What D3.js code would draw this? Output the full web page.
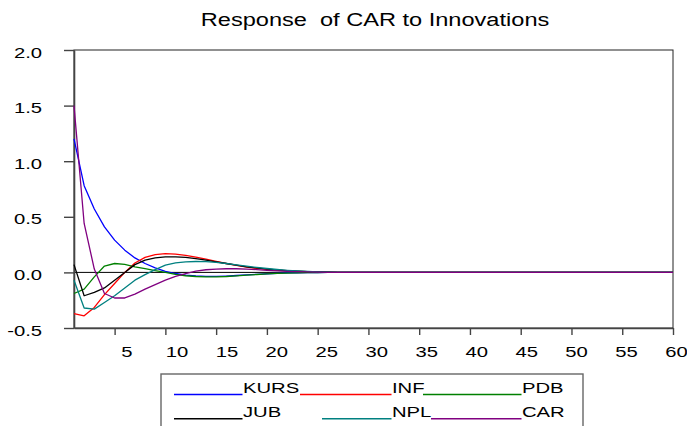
<!DOCTYPE html>
<html>
<head>
<meta charset="utf-8">
<script src="https://cdn.jsdelivr.net/npm/d3@7"></script>
<style>
  body { margin: 0; background: #fff; }
  text { font-family: "Liberation Sans", Arial, sans-serif; fill: #000; }
</style>
</head>
<body>
<svg id="chart" width="687" height="426"></svg>
<script>
// impulse responses, periods 1..60
var periods = d3.range(1, 61);
var KURS = [1.20, 0.78, 0.57, 0.41, 0.29, 0.20, 0.13, 0.08, 0.04, 0.01, -0.01, -0.025, -0.032, -0.036, -0.036, -0.033, -0.028, -0.022, -0.017, -0.012,
            -0.008, -0.005, -0.003, -0.002, -0.001, 0, 0, 0, 0, 0, 0, 0, 0, 0, 0, 0, 0, 0, 0, 0,
            0, 0, 0, 0, 0, 0, 0, 0, 0, 0, 0, 0, 0, 0, 0, 0, 0, 0, 0, 0];
var INF = [-0.37, -0.39, -0.315, -0.20, -0.10, 0.0, 0.085, 0.135, 0.16, 0.168, 0.165, 0.153, 0.138, 0.12, 0.10, 0.08, 0.063, 0.048, 0.036, 0.027,
           0.02, 0.014, 0.01, 0.006, 0.004, 0.002, 0.001, 0, 0, 0, 0, 0, 0, 0, 0, 0, 0, 0, 0, 0,
           0, 0, 0, 0, 0, 0, 0, 0, 0, 0, 0, 0, 0, 0, 0, 0, 0, 0, 0, 0];
var PDB = [-0.19, -0.15, -0.04, 0.057, 0.08, 0.072, 0.05, 0.033, 0.015, 0.0, -0.018, -0.03, -0.037, -0.04, -0.04, -0.037, -0.031, -0.025, -0.019, -0.013,
           -0.009, -0.006, -0.004, -0.002, -0.001, 0, 0, 0, 0, 0, 0, 0, 0, 0, 0, 0, 0, 0, 0, 0,
           0, 0, 0, 0, 0, 0, 0, 0, 0, 0, 0, 0, 0, 0, 0, 0, 0, 0, 0, 0];
var JUB = [0.07, -0.21, -0.18, -0.14, -0.07, 0.0, 0.07, 0.11, 0.13, 0.14, 0.14, 0.135, 0.123, 0.11, 0.095, 0.08, 0.065, 0.05, 0.04, 0.03,
           0.022, 0.016, 0.011, 0.007, 0.004, 0.002, 0.001, 0, 0, 0, 0, 0, 0, 0, 0, 0, 0, 0, 0, 0,
           0, 0, 0, 0, 0, 0, 0, 0, 0, 0, 0, 0, 0, 0, 0, 0, 0, 0, 0, 0];
var NPL = [-0.07, -0.32, -0.33, -0.27, -0.21, -0.14, -0.07, -0.02, 0.025, 0.065, 0.085, 0.095, 0.098, 0.096, 0.09, 0.08, 0.068, 0.056, 0.045, 0.035,
           0.026, 0.019, 0.013, 0.009, 0.005, 0.003, 0.001, 0, 0, 0, 0, 0, 0, 0, 0, 0, 0, 0, 0, 0,
           0, 0, 0, 0, 0, 0, 0, 0, 0, 0, 0, 0, 0, 0, 0, 0, 0, 0, 0, 0];
var CAR = [1.50, 0.44, 0.03, -0.19, -0.23, -0.23, -0.195, -0.15, -0.11, -0.07, -0.035, -0.01, 0.012, 0.024, 0.03, 0.033, 0.033, 0.03, 0.025, 0.019,
           0.014, 0.01, 0.007, 0.004, 0.002, 0.001, 0, 0, 0, 0, 0, 0, 0, 0, 0, 0, 0, 0, 0, 0,
           0, 0, 0, 0, 0, 0, 0, 0, 0, 0, 0, 0, 0, 0, 0, 0, 0, 0, 0, 0];

var seriesNames = ["KURS", "INF", "PDB", "JUB", "NPL", "CAR"];
var seriesValues = [KURS, INF, PDB, JUB, NPL, CAR];
var seriesColors = ["#0000ff", "#ff0000", "#008000", "#000000", "#008080", "#800080"];
var xTicks = [5, 10, 15, 20, 25, 30, 35, 40, 45, 50, 55, 60];
var yTicks = [-0.5, 0.0, 0.5, 1.0, 1.5, 2.0];
var title = "Response  of CAR to Innovations";

var svg = d3.select("#chart"),
    plotL = 74, plotR = 673, plotT = 50, plotB = 328,
    k = 1.35; // text is drawn horizontally stretched

var x = d3.scaleLinear().domain([1, 60]).range([plotL, plotR]);
var xl = d3.scaleLinear().domain([5, 60]).range([126.5, 676]); // label positions sit right of the ticks
var y = d3.scaleLinear().domain([-0.5, 2.0]).range([plotB, plotT]);

// title
svg.append("text")
    .attr("transform", "translate(375,26) scale(1.31,1)")
    .attr("text-anchor", "middle")
    .attr("font-size", 18)
    .style("white-space", "pre")
    .text(title);

// frame
svg.append("rect")
    .attr("x", plotL).attr("y", plotT)
    .attr("width", plotR - plotL).attr("height", plotB - plotT)
    .attr("fill", "none")
    .attr("stroke", "#222")
    .attr("stroke-width", 1);

// zero line
svg.append("line")
    .attr("x1", plotL).attr("x2", plotR)
    .attr("y1", y(0)).attr("y2", y(0))
    .attr("stroke", "#000")
    .attr("stroke-width", 1);

// y axis
var gy = svg.append("g")
    .attr("transform", "translate(" + plotL + ",0)")
    .call(d3.axisLeft(y).tickValues(yTicks).tickFormat(d3.format(".1f")).tickSize(10).tickSizeOuter(0));
gy.select(".domain").attr("stroke", "#444").attr("stroke-width", 1.6);
gy.selectAll(".tick line").attr("stroke", "#444").attr("stroke-width", 1.4);
gy.selectAll(".tick text")
    .attr("font-size", 15)
    .attr("x", -32 / k)
    .attr("y", 7)
    .attr("dy", null)
    .attr("transform", "scale(" + k + ",1)")
    .text(function(d) { return d3.format(".1f")(d).replace("−", "-"); });
gy.attr("font-family", null).attr("font-size", null);

// x axis
var gx = svg.append("g")
    .attr("transform", "translate(0," + plotB + ")")
    .call(d3.axisBottom(x).tickValues(xTicks).tickFormat(d3.format("d")).tickSize(7).tickSizeOuter(0));
gx.select(".domain").attr("stroke", "#444").attr("stroke-width", 1.6);
gx.selectAll(".tick line").attr("stroke", "#444").attr("stroke-width", 1.4);
gx.selectAll(".tick text")
    .attr("font-size", 15)
    .attr("y", 29)
    .attr("dy", null)
    .attr("x", function(d) { return (xl(d) - x(d)) / k; })
    .attr("transform", "scale(" + k + ",1)");
gx.attr("font-family", null).attr("font-size", null);
svg.selectAll(".tick text").attr("fill", "#000");

// response lines
var line = d3.line()
    .x(function(d, i) { return x(periods[i]); })
    .y(function(d) { return y(d); });

seriesValues.forEach(function(vals, i) {
    svg.append("path")
        .datum(vals)
        .attr("fill", "none")
        .attr("stroke", seriesColors[i])
        .attr("stroke-width", 1.3)
        .attr("stroke-linejoin", "round")
        .attr("d", line);
});

// legend
svg.append("rect")
    .attr("x", 161).attr("y", 374)
    .attr("width", 422).attr("height", 70)
    .attr("fill", "none")
    .attr("stroke", "#666")
    .attr("stroke-width", 1.4);

var colText = [243, 392, 522],
    lineStart = [174, 300, 423, 174, 322, 431],
    rowY = [392.5, 416.8];

seriesNames.forEach(function(name, i) {
    var row = Math.floor(i / 3), col = i % 3;
    svg.append("line")
        .attr("x1", lineStart[i]).attr("x2", colText[col] - 0.5)
        .attr("y1", rowY[row] + 2).attr("y2", rowY[row] + 2)
        .attr("stroke", seriesColors[i])
        .attr("stroke-width", 1.6);
    svg.append("text")
        .attr("transform", "translate(" + colText[col] + "," + rowY[row] + ") scale(" + k + ",1)")
        .attr("font-size", 15)
        .text(name);
});
</script>
</body>
</html>
